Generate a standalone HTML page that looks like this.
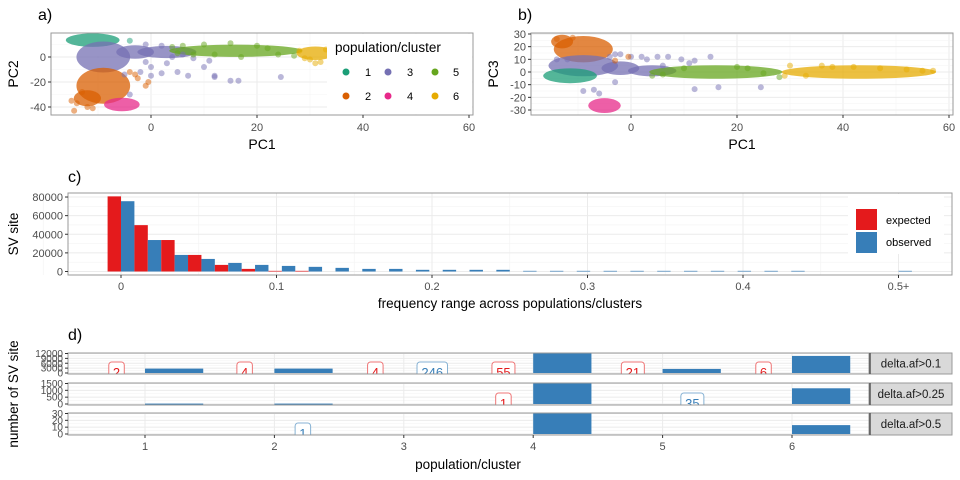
<!DOCTYPE html>
<html><head><meta charset="utf-8"><style>
html,body{margin:0;padding:0;background:#fff;}
svg{display:block;font-family:"Liberation Sans",sans-serif;}
</style></head><body>
<svg id="fig" width="960" height="480" viewBox="0 0 960 480" xmlns="http://www.w3.org/2000/svg">
<defs>
<clipPath id="clipA"><rect x="51" y="33" width="422" height="82"/></clipPath>
<clipPath id="clipB"><rect x="531" y="33" width="422" height="82"/></clipPath>
<clipPath id="clipD1"><rect x="68" y="353" width="801" height="21"/></clipPath>
<clipPath id="clipD2"><rect x="68" y="383" width="801" height="22"/></clipPath>
<clipPath id="clipD3"><rect x="68" y="413" width="801" height="22"/></clipPath>
</defs>
<g id="root"></g>
</svg>
<script>
// ---------- data ----------
const clusterColors = ["#1b9e77","#d95f02","#7570b3","#e7298a","#66a61e","#e6ab02"];
// panel a blobs: [cluster, pc1, pc2, rx, ry]
const blobsA = [[0,-11,13.5,4.5,3],[2,-9,0,4.5,10],[2,-3,4,3,3],[2,3,4,5,2.5],[1,-9,-23,4.5,12],[1,-12,-33,2,4],[3,-5.5,-38,2.8,3],[4,16,5,12,2.5],[5,31,3,3,3]];
const pointsA = [[0,-4,13],
[2,-5,-14],[2,-2,-12],[2,0,-15],[2,2,-13],[2,5,-12],[2,7,-15],[2,10,-8],[2,12,-16],[2,12,-15],[2,15,-19],[2,16.5,-19],[2,24.5,-16],[2,11,-3],[2,3,-5],[2,0,-8],[2,-1,-4],[2,8,-1],[2,-4,-30],[2,-1,10],[2,2,9],[2,4,0],[2,6,2],
[1,-14,-37],[1,-14.5,-43],[1,-12,-40],[1,-11,-41],[1,-4,-12],[1,-3,-14],[1,-2.5,-17],[1,-1,-23],[1,-0.5,-20],[1,-15,-35],[1,-13,-28],
[4,4,8],[4,6,9],[4,10,10],[4,15,11],[4,20,9],[4,22,7],[4,24,2],[4,17,0],[4,12,2],[4,8,2],[4,27,1],[4,5,3],
[5,29,-1],[5,30,-2],[5,31,-5],[5,32,-4],[5,28,5],[5,33,6]];
const blobsB = [[1,-9,18,5,8],[1,-13,24,1.5,3],[2,-9,5,6,6],[2,-2,3,3,3],[2,4,1,4,2],[0,-11.5,-3,4.5,3.5],[3,-5,-26.5,2.5,3.5],[4,16,0,12,3],[5,43,0,14,3]];
const pointsB = [[2,-9,-15],[2,-7,-14],[2,-6,-17],[2,-3,-8],[2,-3,14],[2,0,12],[2,2,12],[2,3,10],[2,5,12],[2,6,5],[2,7,12],[2,9.5,10],[2,11,7],[2,12,9],[2,15,12],[2,12,-13.5],[2,16.5,-12],[2,24.5,-12],[2,-14,10],[2,-12,10],[2,-4,12],[2,-2,14],
[1,-0.5,12],[1,-3,9],[1,-14,26],[1,-11,27],
[4,4,-3],[4,6,-2],[4,10,3],[4,20,4],[4,22,3],[4,25,-1],[4,28,-4],
[5,30,5],[5,36,5],[5,38,4],[5,42,4],[5,47,3],[5,52,2],[5,55,1],[5,57,1],[5,29,-3],[5,33,-3]];
const pcTicks = [0,20,40,60];
const pc2Ticks = [0,-20,-40];
const pc3Ticks = [30,20,10,0,-10,-20,-30];
// panel c
const binIndex = [0,1,2,3,4,5,6,7,8,9,10,11,12,13,14,15,16,17,18,19,20,21,22,23,24,25,26,27,28,29];
const expectedVals = [80700,49800,33800,17800,7100,2800,700,700,0,0,0,0,0,0,0,0,0,0,0,0,0,0,0,0,0,0,0,0,0,0];
const observedVals = [75500,33800,17800,13500,9200,7100,6000,5000,3900,2800,2800,1800,1800,1800,1800,700,700,700,700,700,700,700,700,700,700,700,0,0,0,700];
const freqTicks = [0,0.1,0.2,0.3,0.4,0.5];
const freqTickLabels = ["0","0.1","0.2","0.3","0.4","0.5+"];
const countTicks = [0,20000,40000,60000,80000];
// panel d
const pops = [1,2,3,4,5,6];
const facetNames = ["delta.af>0.1","delta.af>0.25","delta.af>0.5"];
const facetMax = [12000,1500,30];
const facetTicks = [[0,3000,6000,9000,12000],[0,500,1000,1500],[0,10,20,30]];
const barVals = [[2700,2700,0,13000,2500,10500],[30,30,0,2000,0,1150],[0,0,0,40,0,13]];
const labelFacet = [0,0,0,0,0,0,0,1,1,2];
const labelPos = [0.78,1.77,2.78,3.22,3.77,4.77,5.78,3.77,5.23,2.22];
const labelText = ["2","4","4","246","55","21","6","1","35","1"];
const labelKind = ["e","e","e","o","e","e","e","e","o","o"];

// ---------- helpers ----------
const NS="http://www.w3.org/2000/svg";
const root=document.getElementById('root');
function mk(tag,attrs,parent){const e=document.createElementNS(NS,tag);for(const k in attrs)e.setAttribute(k,attrs[k]);(parent||root).appendChild(e);return e;}
function txt(x,y,s,attrs,parent){const e=mk('text',Object.assign({x:x,y:y},attrs),parent);e.textContent=s;return e;}

// ---------- scatter panels ----------
function scatter(cfg){
  const g=mk('g',{});
  
  
  mk('rect',{x:cfg.x0,y:cfg.y0,width:cfg.x1-cfg.x0,height:cfg.y1-cfg.y0,fill:'#fff'},g);
  const sx=v=>cfg.xz+v*5.3, sy=v=>cfg.yz-v*cfg.yk;
  for(let v=-10;v<=60;v+=10){const major=v%20===0;mk('line',{x1:sx(v),x2:sx(v),y1:cfg.y0,y2:cfg.y1,stroke:major?'#ebebeb':'#f5f5f5','stroke-width':major?1:0.6},g);}
  cfg.yminor.forEach(v=>mk('line',{x1:cfg.x0,x2:cfg.x1,y1:sy(v),y2:sy(v),stroke:'#f5f5f5','stroke-width':0.6},g));
  cfg.yticks.forEach(v=>mk('line',{x1:cfg.x0,x2:cfg.x1,y1:sy(v),y2:sy(v),stroke:'#ebebeb','stroke-width':1},g));
  const pg=mk('g',{'clip-path':cfg.clip},g);
  cfg.blobs.forEach(b=>{const e=mk('ellipse',{cx:sx(b[1]),cy:sy(b[2]),rx:b[3]*5.3+3,ry:b[4]*cfg.yk+3,fill:clusterColors[b[0]],'fill-opacity':0.75},pg);
    
    });
  cfg.points.forEach(p=>{const e=mk('circle',{cx:sx(p[1]),cy:sy(p[2]),r:3,fill:clusterColors[p[0]],'fill-opacity':0.5},pg);
    
    });
  mk('rect',{x:cfg.x0,y:cfg.y0,width:cfg.x1-cfg.x0,height:cfg.y1-cfg.y0,fill:'none',stroke:'#999','stroke-width':1},g);
  pcTicks.forEach(v=>{mk('line',{x1:sx(v),x2:sx(v),y1:cfg.y1,y2:cfg.y1+3,stroke:'#333'},g);
    txt(sx(v),cfg.y1+16,String(v),{'font-size':11,fill:'#4d4d4d','text-anchor':'middle'},g);});
  cfg.yticks.forEach(v=>{mk('line',{x1:cfg.x0-3,x2:cfg.x0,y1:sy(v),y2:sy(v),stroke:'#333'},g);
    txt(cfg.x0-5,sy(v)+4,String(v),{'font-size':11,fill:'#4d4d4d','text-anchor':'end'},g);});
  const xt=txt((cfg.x0+cfg.x1)/2,cfg.y1+34,'PC1',{'font-size':14,'text-anchor':'middle',fill:'#000'},g);
  
  const yt=txt(0,0,cfg.ylab,{'font-size':14,'text-anchor':'middle',fill:'#000',transform:`translate(${cfg.ylx},${(cfg.y0+cfg.y1)/2}) rotate(-90)`},g);
  
  const t=txt(cfg.tx,20,cfg.tag,{'font-size':16,fill:'#000'},g);
  
  return g;
}
scatter({name:'panel-a-pca-pc1-pc2',x0:51,x1:473,y0:33,y1:115,xz:151,yz:57,yk:1.25,yticks:pc2Ticks,yminor:[10,-10,-30],blobs:blobsA,points:pointsA,clip:'url(#clipA)',ylab:'PC2',ylx:18,tx:38,tag:'a)'});
scatter({name:'panel-b-pca-pc1-pc3',x0:531,x1:953,y0:33,y1:115,xz:631,yz:72,yk:1.267,yticks:pc3Ticks,yminor:[25,15,5,-5,-15,-25],blobs:blobsB,points:pointsB,clip:'url(#clipB)',ylab:'PC3',ylx:498,tx:518,tag:'b)'});

// legend a
(function(){
  const g=mk('g',{});
  
  
  mk('rect',{x:327,y:34,width:145,height:80,fill:'#fff'},g);
  txt(335,52,'population/cluster',{'font-size':13.5,fill:'#000'},g);
  const pos=[[346,72,368],[346,96,368],[388,72,410],[388,96,410],[435,72,456],[435,96,456]];
  pos.forEach((p,i)=>{const e=mk('g',{},g);
    
    
    mk('circle',{cx:p[0],cy:p[1],r:3.5,fill:clusterColors[i]},e);
    txt(p[2],p[1]+4,String(i+1),{'font-size':11,fill:'#000','text-anchor':'middle'},e);});
})();

// ---------- panel c ----------
(function(){
  const g=mk('g',{});
  
  
  const x0=68,x1=952,y0=193,y1=275;
  const sx=v=>121+v*1555, sy=v=>271.5-v*0.000931;
  const bw=0.5/29;
  for(let v=-0.05;v<=0.55;v+=0.1)mk('line',{x1:sx(v),x2:sx(v),y1:y0,y2:y1,stroke:'#f3f3f3','stroke-width':0.6},g);
  for(let v=10000;v<=80000;v+=20000)mk('line',{x1:x0,x2:x1,y1:sy(v),y2:sy(v),stroke:'#f3f3f3','stroke-width':0.6},g);
  freqTicks.forEach(v=>mk('line',{x1:sx(v),x2:sx(v),y1:y0,y2:y1,stroke:'#ebebeb'},g));
  countTicks.forEach(v=>mk('line',{x1:x0,x2:x1,y1:sy(v),y2:sy(v),stroke:'#ebebeb'},g));
  const bpx=bw*1555/2;
  binIndex.forEach((k,i)=>{const c=sx(k*bw);
    const r=mk('rect',{x:c-bpx,y:sy(expectedVals[i]),width:bpx,height:sy(0)-sy(expectedVals[i]),fill:'#e41a1c'},g);
    
    
    const b=mk('rect',{x:c,y:sy(observedVals[i]),width:bpx,height:sy(0)-sy(observedVals[i]),fill:'#377eb8'},g);
    
    });
  mk('rect',{x:x0,y:y0,width:x1-x0,height:y1-y0,fill:'none',stroke:'#999'},g);
  freqTicks.forEach((v,i)=>{mk('line',{x1:sx(v),x2:sx(v),y1:y1,y2:y1+3,stroke:'#333'},g);
    txt(sx(v),y1+15,freqTickLabels[i],{'font-size':11,fill:'#4d4d4d','text-anchor':'middle'},g);});
  countTicks.forEach(v=>{mk('line',{x1:x0-3,x2:x0,y1:sy(v),y2:sy(v),stroke:'#333'},g);
    txt(x0-5,sy(v)+4,String(v),{'font-size':11,fill:'#4d4d4d','text-anchor':'end'},g);});
  txt(510,308,'frequency range across populations/clusters',{'font-size':13.5,'text-anchor':'middle',fill:'#000'},g);
  txt(0,0,'SV site',{'font-size':13.5,'text-anchor':'middle',fill:'#000',transform:'translate(18,234) rotate(-90)'},g);
  txt(68,182,'c)',{'font-size':16,fill:'#000'},g);
  const lg=mk('g',{},g);
  
  
  mk('rect',{x:848,y:194,width:96,height:60,fill:'#fff'},lg);
  mk('rect',{x:856,y:209,width:21,height:21,fill:'#e41a1c'},lg);
  mk('rect',{x:856,y:232,width:21,height:21,fill:'#377eb8'},lg);
  txt(886,224,'expected',{'font-size':11,fill:'#000'},lg);
  txt(886,246,'observed',{'font-size':11,fill:'#000'},lg);
})();

// ---------- panel d ----------
(function(){
  const g=mk('g',{});
  
  
  const x0=68,x1=869;
  const sx=v=>145+(v-1)*129.4;
  const facets=[[353,374],[383,405],[413,435]];
  const clips=['url(#clipD1)','url(#clipD2)','url(#clipD3)'];
  facets.forEach((f,fi)=>{
    const fg=mk('g',{},g);
    
    
    const top=f[0],bot=f[1],h=bot-top-1.5;
    const sy=v=>bot-1-v/facetMax[fi]*h;
    const tk=facetTicks[fi];
    for(let i=0;i<tk.length-1;i++)mk('line',{x1:x0,x2:x1,y1:sy((tk[i]+tk[i+1])/2),y2:sy((tk[i]+tk[i+1])/2),stroke:'#f3f3f3','stroke-width':0.6},fg);
    tk.forEach(v=>mk('line',{x1:x0,x2:x1,y1:sy(v),y2:sy(v),stroke:'#ebebeb'},fg));
    pops.forEach(p=>mk('line',{x1:sx(p),x2:sx(p),y1:top,y2:bot,stroke:'#ebebeb'},fg));
    const cg=mk('g',{'clip-path':clips[fi]},fg);
    pops.forEach((p,i)=>{const v=barVals[fi][i];if(v<=0)return;
      const r=mk('rect',{x:sx(p),y:sy(v),width:0.45*129.4,height:Math.max(1,sy(0)-sy(v)),fill:'#377eb8'},cg);
      
      });
    labelFacet.forEach((lf,i)=>{if(lf!==fi)return;
      const col=labelKind[i]==='e'?'#e41a1c':'#377eb8';
      const w=8+labelText[i].length*7.5;
      const cx=sx(labelPos[i]);
      const lab=mk('g',{},cg);
      
      
      mk('rect',{x:cx-w/2,y:bot-12,width:w,height:20,rx:3,fill:'#fff',stroke:col,'stroke-opacity':0.6},lab);
      txt(cx,bot+3,labelText[i],{'font-size':13,fill:col,'text-anchor':'middle'},lab);});
    mk('rect',{x:x0,y:top,width:x1-x0,height:bot-top,fill:'none',stroke:'#999'},fg);
    tk.forEach(v=>{mk('line',{x1:x0-3,x2:x0,y1:sy(v),y2:sy(v),stroke:'#333'},fg);
      txt(x0-5,sy(v)+3.5,String(v),{'font-size':10,fill:'#4d4d4d','text-anchor':'end'},fg);});
    const st=mk('g',{},fg);
    
    
    mk('rect',{x:870,y:top,width:82,height:bot-top,fill:'#d9d9d9',stroke:'#999'},st);
    mk('line',{x1:870,x2:870,y1:top,y2:bot,stroke:'#555','stroke-width':1.5},st);
    txt(911,(top+bot)/2+4,facetNames[fi],{'font-size':11.5,fill:'#1a1a1a','text-anchor':'middle'},st);
  });
  pops.forEach(p=>{mk('line',{x1:sx(p),x2:sx(p),y1:435,y2:438,stroke:'#333'},g);
    txt(sx(p),450,String(p),{'font-size':11,fill:'#4d4d4d','text-anchor':'middle'},g);});
  txt(468,469,'population/cluster',{'font-size':13.5,'text-anchor':'middle',fill:'#000'},g);
  txt(0,0,'number of SV site',{'font-size':13.5,'text-anchor':'middle',fill:'#000',transform:'translate(18,394) rotate(-90)'},g);
  txt(68,340,'d)',{'font-size':16,fill:'#000'},g);
})();
</script>
</body></html>
